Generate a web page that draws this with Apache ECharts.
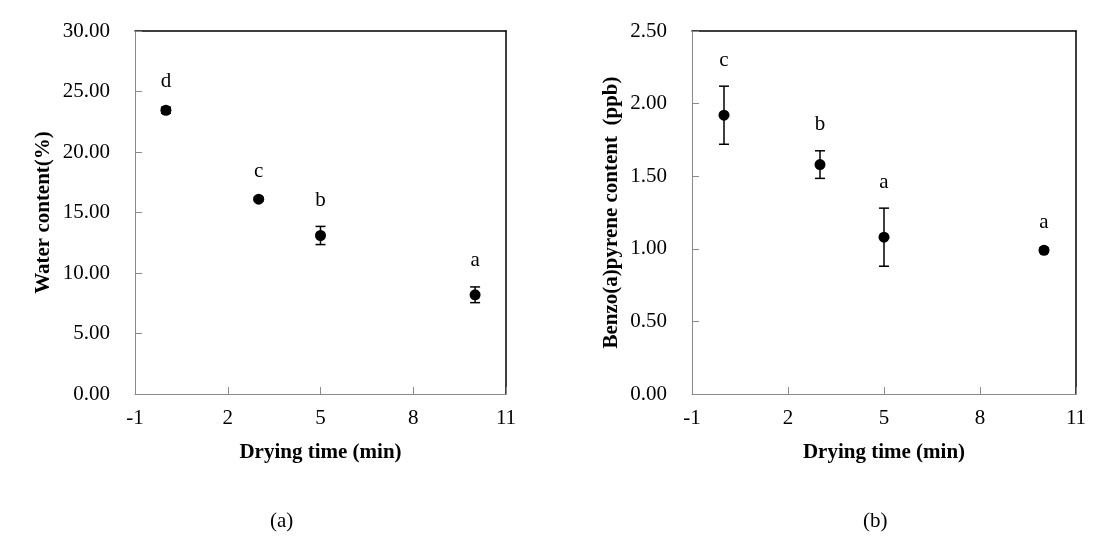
<!DOCTYPE html>
<html>
<head>
<meta charset="utf-8">
<script src="https://cdn.jsdelivr.net/npm/echarts@6/dist/echarts.min.js"></script>
<style>html,body{margin:0;padding:0;background:#fff}#c{width:1101px;height:540px}</style>
</head>
<body>
<div id="c"></div>
<script>
// ---- data ----
const dryingTime = [0, 3, 5, 10];
const waterMean = [23.45, 16.1, 13.1, 8.2];
const waterSD = [0.25, 0.15, 0.75, 0.65];
const waterLetters = ['d', 'c', 'b', 'a'];
const bapMean = [1.92, 1.58, 1.08, 0.99];
const bapSD = [0.2, 0.095, 0.2, 0.015];
const bapLetters = ['c', 'b', 'a', 'a'];
const xTitle = 'Drying time (min)';
const yTitleA = 'Water content(%)';
const yTitleB = 'Benzo(a)pyrene content  (ppb)';
const panelLabels = ['(a)', '(b)'];

const FONT = '"Liberation Serif", "Times New Roman", serif';
const chart = echarts.init(document.getElementById('c'), null, {renderer: 'canvas'});
const letters = [waterLetters, bapLetters];

function errData(xs, ms, sds, lt) {
  return xs.map((x, i) => [x, ms[i], sds[i], lt[i]]);
}
function errRender(params, api) {
  const x = api.value(0), m = api.value(1), sd = api.value(2);
  const letter = letters[params.seriesIndex === 1 ? 0 : 1][params.dataIndex];
  const top = api.coord([x, m + sd]);
  const bot = api.coord([x, m - sd]);
  const hw = 5;
  const style = {stroke: '#000', lineWidth: 1.5};
  return {
    type: 'group',
    children: [
      {type: 'line', shape: {x1: top[0], y1: top[1], x2: bot[0], y2: bot[1]}, style},
      {type: 'line', shape: {x1: top[0] - hw, y1: top[1], x2: top[0] + hw, y2: top[1]}, style},
      {type: 'line', shape: {x1: bot[0] - hw, y1: bot[1], x2: bot[0] + hw, y2: bot[1]}, style},
      {type: 'text', x: top[0], y: top[1] - 26, style: {text: letter, fill: '#000', font: '21px ' + FONT, align: 'center', verticalAlign: 'middle'}}
    ]
  };
}

function xAxisMain(gi) {
  return {
    type: 'value', gridIndex: gi, min: -1, max: 11, interval: 3, position: 'bottom',
    axisLine: {show: true, onZero: false, lineStyle: {color: '#8a8a8a', width: 1}},
    axisTick: {show: true, inside: true, length: 7, lineStyle: {color: '#8a8a8a'}},
    axisLabel: {color: '#000', fontFamily: FONT, fontSize: 21, margin: 14},
    splitLine: {show: false},
    name: xTitle, nameLocation: 'middle', nameGap: 48,
    nameTextStyle: {color: '#000', fontFamily: FONT, fontSize: 21, fontWeight: 'bold'}
  };
}
function xAxisTop(gi) {
  return {
    type: 'value', gridIndex: gi, min: -1, max: 11, position: 'top',
    axisLine: {show: true, onZero: false, lineStyle: {color: '#000', width: 1.5}},
    axisTick: {show: false}, axisLabel: {show: false}, splitLine: {show: false}
  };
}
function yAxisMain(gi, max, interval, title, gap) {
  return {
    type: 'value', gridIndex: gi, min: 0, max: max, interval: interval, position: 'left',
    axisLine: {show: true, onZero: false, lineStyle: {color: '#8a8a8a', width: 1}},
    axisTick: {show: true, inside: true, length: 7, lineStyle: {color: '#8a8a8a'}},
    axisLabel: {color: '#000', fontFamily: FONT, fontSize: 21, margin: 25, formatter: v => v.toFixed(2)},
    splitLine: {show: false},
    name: title, nameLocation: 'middle', nameGap: gap, nameRotate: 90,
    nameTextStyle: {color: '#000', fontFamily: FONT, fontSize: 21, fontWeight: 'bold'}
  };
}
function yAxisRight(gi, max) {
  return {
    type: 'value', gridIndex: gi, min: 0, max: max, position: 'right',
    axisLine: {show: true, onZero: false, lineStyle: {color: '#000', width: 1.5}},
    axisTick: {show: false}, axisLabel: {show: false}, splitLine: {show: false}
  };
}

const option = {
  backgroundColor: '#fff',
  animation: false,
  grid: [
    {left: 135, right: 595, top: 31, bottom: 146},
    {left: 692, right: 25, top: 31, bottom: 146}
  ],
  xAxis: [xAxisMain(0), xAxisMain(1), xAxisTop(0), xAxisTop(1)],
  yAxis: [
    yAxisMain(0, 30, 5, yTitleA, 81),
    yAxisMain(1, 2.5, 0.5, yTitleB, 70),
    yAxisRight(0, 30), yAxisRight(1, 2.5)
  ],
  graphic: [
    {type: 'text', left: 270, top: 511, style: {text: panelLabels[0], font: '21px ' + FONT, fill: '#000'}},
    {type: 'text', left: 863, top: 511, style: {text: panelLabels[1], font: '21px ' + FONT, fill: '#000'}}
  ],
  series: [
    {type: 'scatter', xAxisIndex: 0, yAxisIndex: 0, symbol: 'circle', symbolSize: 11,
     itemStyle: {color: '#000', opacity: 1}, data: dryingTime.map((x, i) => [x, waterMean[i]]), z: 3},
    {type: 'custom', xAxisIndex: 0, yAxisIndex: 0, renderItem: errRender,
     data: errData(dryingTime, waterMean, waterSD, waterLetters), z: 2},
    {type: 'scatter', xAxisIndex: 1, yAxisIndex: 1, symbol: 'circle', symbolSize: 11,
     itemStyle: {color: '#000', opacity: 1}, data: dryingTime.map((x, i) => [x, bapMean[i]]), z: 3},
    {type: 'custom', xAxisIndex: 1, yAxisIndex: 1, renderItem: errRender,
     data: errData(dryingTime, bapMean, bapSD, bapLetters), z: 2}
  ]
};
chart.setOption(option);
</script>
</body>
</html>
